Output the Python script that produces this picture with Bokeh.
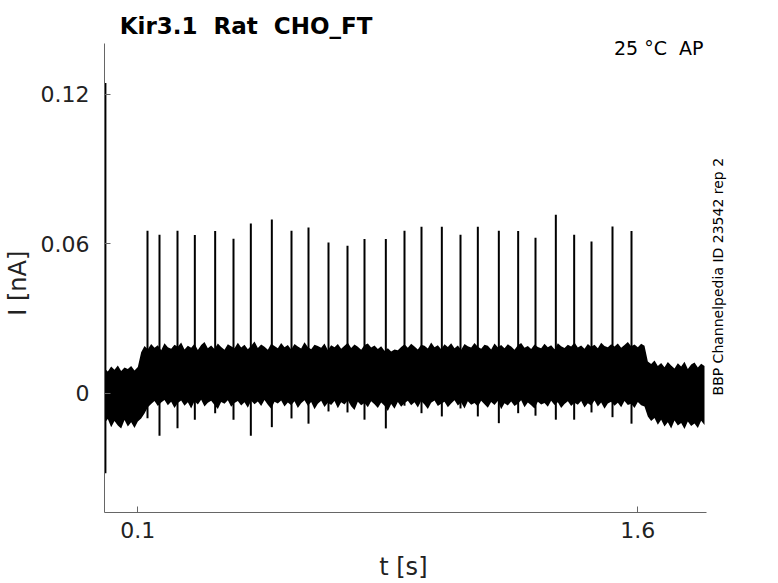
import math
from bokeh.plotting import figure
from bokeh.models import Range1d, FixedTicker, Label
from bokeh.embed import file_html
from bokeh.resources import INLINE

# ---- data ----
# (a no-break space after the first space keeps the double spacing visible in SVG)
title_text = "Kir3.1 \u00a0Rat \u00a0CHO_FT"
cond_text = "25 °C \u00a0AP"
side_text = "BBP Channelpedia ID 23542 rep 2"
x_label = "t [s]"
y_label = "I [nA]"

x_ticks = [0.1, 1.6]
x_tick_labels = ["0.1", "1.6"]
y_ticks = [0.0, 0.06, 0.12]
y_tick_labels = ["0", "0.06", "0.12"]

# axis extents of the recording panel
t_min, t_max = 0.0, 1.805
i_min, i_max = -0.0477, 0.1403

# initial capacitive transient at t ~ 0
transient_t = 0.002
transient_lo = -0.032
transient_hi = 0.1244

# noise envelope of the recorded current (nA), sampled every 10 ms from t = 0 to 1.80 s
env_hi = [
    # 0.00 - 0.10 (before the step)
    0.0100, 0.0088, 0.0108, 0.0095, 0.0112, 0.0090, 0.0104, 0.0098, 0.0110, 0.0092, 0.0106,
    # 0.11 - 1.62
    0.0165,
    0.0190, 0.0177, 0.0198, 0.0183, 0.0193, 0.0173, 0.0201, 0.0185, 0.0179, 0.0195,
    0.0187, 0.0204, 0.0176, 0.0191, 0.0183, 0.0199, 0.0174, 0.0194, 0.0206, 0.0181,
    0.0192, 0.0178, 0.0200, 0.0186, 0.0175, 0.0197, 0.0189, 0.0181, 0.0203, 0.0184,
    0.0195, 0.0177, 0.0191, 0.0208, 0.0182, 0.0196, 0.0187, 0.0175, 0.0199, 0.0190,
    0.0181, 0.0202, 0.0185, 0.0194, 0.0176, 0.0198, 0.0188, 0.0180, 0.0205, 0.0186,
    0.0177, 0.0195, 0.0190, 0.0183, 0.0200, 0.0174, 0.0193, 0.0185, 0.0198, 0.0179,
    0.0191, 0.0203, 0.0182, 0.0196, 0.0187, 0.0175, 0.0194, 0.0200, 0.0184, 0.0192,
    0.0178, 0.0189, 0.0171, 0.0181, 0.0168, 0.0176, 0.0173, 0.0186, 0.0197, 0.0183,
    0.0199, 0.0188, 0.0176, 0.0195, 0.0191, 0.0180, 0.0204, 0.0185, 0.0193, 0.0177,
    0.0197, 0.0186, 0.0201, 0.0181, 0.0192, 0.0175, 0.0198, 0.0189, 0.0184, 0.0202,
    0.0187, 0.0179, 0.0195, 0.0191, 0.0176, 0.0200, 0.0185, 0.0194, 0.0181, 0.0197,
    0.0188, 0.0175, 0.0193, 0.0202, 0.0183, 0.0190, 0.0178, 0.0196, 0.0186, 0.0181,
    0.0199, 0.0185, 0.0193, 0.0177, 0.0201, 0.0189, 0.0182, 0.0195, 0.0188, 0.0204,
    0.0184, 0.0192, 0.0179, 0.0198, 0.0187, 0.0195, 0.0181, 0.0203, 0.0190, 0.0185,
    0.0197, 0.0188, 0.0200, 0.0183, 0.0194, 0.0206, 0.0189, 0.0196, 0.0185, 0.0199,
    0.0191,
    # 1.63 - 1.80 (after the step)
    0.0128, 0.0118, 0.0132, 0.0110, 0.0122, 0.0105, 0.0126, 0.0112, 0.0100,
    0.0121, 0.0108, 0.0127, 0.0098, 0.0116, 0.0124, 0.0104, 0.0119, 0.0110,
]
env_lo = [
    -0.0118, -0.0102, -0.0135, -0.0110, -0.0128, -0.0140, -0.0106, -0.0132, -0.0115, -0.0138, -0.0112,
    -0.0100,
    -0.0080, -0.0055, -0.0042, -0.0030, -0.0050, -0.0036, -0.0026, -0.0047, -0.0033, -0.0058,
    -0.0038, -0.0028, -0.0049, -0.0035, -0.0060, -0.0031, -0.0044, -0.0025, -0.0052, -0.0037,
    -0.0029, -0.0046, -0.0062, -0.0034, -0.0041, -0.0027, -0.0053, -0.0038, -0.0030, -0.0048,
    -0.0035, -0.0057, -0.0029, -0.0043, -0.0032, -0.0050, -0.0026, -0.0045, -0.0061, -0.0033,
    -0.0040, -0.0028, -0.0052, -0.0036, -0.0047, -0.0031, -0.0058, -0.0039, -0.0027, -0.0049,
    -0.0034, -0.0063, -0.0041, -0.0029, -0.0054, -0.0037, -0.0046, -0.0030, -0.0059, -0.0035,
    -0.0044, -0.0028, -0.0051, -0.0066, -0.0033, -0.0047, -0.0038, -0.0055, -0.0031, -0.0043,
    -0.0058, -0.0036, -0.0049, -0.0070, -0.0042, -0.0061, -0.0034, -0.0053, -0.0039, -0.0029,
    -0.0047, -0.0035, -0.0056, -0.0030, -0.0044, -0.0062, -0.0037, -0.0028, -0.0050, -0.0041,
    -0.0033, -0.0055, -0.0040, -0.0027, -0.0048, -0.0036, -0.0060, -0.0031, -0.0045, -0.0038,
    -0.0052, -0.0029, -0.0043, -0.0057, -0.0034, -0.0046, -0.0030, -0.0063, -0.0039, -0.0048,
    -0.0032, -0.0050, -0.0041, -0.0027, -0.0055, -0.0036, -0.0047, -0.0060, -0.0033, -0.0044,
    -0.0038, -0.0053, -0.0029, -0.0046, -0.0035, -0.0058, -0.0042, -0.0031, -0.0050, -0.0037,
    -0.0045, -0.0030, -0.0056, -0.0039, -0.0048, -0.0028, -0.0052, -0.0036, -0.0061, -0.0040,
    -0.0033, -0.0049, -0.0037, -0.0055, -0.0030, -0.0046, -0.0041, -0.0058, -0.0034, -0.0047,
    -0.0052,
    -0.0092, -0.0110, -0.0098, -0.0125, -0.0105, -0.0132, -0.0115, -0.0140, -0.0108,
    -0.0128, -0.0118, -0.0142, -0.0112, -0.0130, -0.0120, -0.0138, -0.0109, -0.0126,
]
env_dt = 0.01
env_t = [round(i * env_dt, 2) for i in range(len(env_hi))]

# evoked spikes: time (s), peak and trough (nA)
spike_t = [0.129, 0.165, 0.219, 0.271, 0.332, 0.387, 0.439, 0.502, 0.561,
           0.612, 0.672, 0.729, 0.780, 0.844, 0.900, 0.951, 1.012, 1.068,
           1.120, 1.183, 1.241, 1.293, 1.354, 1.409, 1.461, 1.524, 1.581]
spike_peak = [0.0652, 0.0636, 0.0652, 0.0635, 0.0651, 0.0620, 0.0681, 0.0697, 0.0652,
              0.0665, 0.0605, 0.0592, 0.0619, 0.0619, 0.0652, 0.0668, 0.0668, 0.0636,
              0.0668, 0.0652, 0.0651, 0.0624, 0.0716, 0.0636, 0.0609, 0.0669, 0.0651]
spike_trough = [-0.0099, -0.0169, -0.0139, -0.0105, -0.0079, -0.0105, -0.0169, -0.0135, -0.0100,
                -0.0121, -0.0072, -0.0076, -0.0105, -0.0140, -0.0049, -0.0079, -0.0092, -0.0060,
                -0.0092, -0.0119, -0.0079, -0.0089, -0.0105, -0.0105, -0.0076, -0.0095, -0.0121]

FONT = "DejaVu Sans"
NBSP = "\u00a0"

# frame extends over the whole top/right area so that the annotation texts are not clipped;
# axis lines are limited to the recording extents with `bounds`
p = figure(width=778, height=583, output_backend="svg", toolbar_location=None,
           x_range=Range1d(0.0, 2.022), y_range=Range1d(-0.0477, 0.1575),
           min_border_left=104, min_border_right=0, min_border_top=0, min_border_bottom=71)
p.outline_line_color = None
p.xgrid.visible = False
p.ygrid.visible = False
p.background_fill_color = "white"
p.border_fill_color = "white"

# trace
p.varea(x=env_t, y1=env_lo, y2=env_hi, fill_color="black")
p.segment(x0=spike_t, y0=spike_trough, x1=spike_t, y1=spike_peak,
          line_color="black", line_width=2)
p.segment(x0=[transient_t], y0=[transient_lo], x1=[transient_t], y1=[transient_hi],
          line_color="black", line_width=2.5)

for ax in (p.xaxis[0], p.yaxis[0]):
    ax.axis_line_color = "#666666"
    ax.major_tick_line_color = "#666666"
    ax.major_tick_in = 6
    ax.major_tick_out = 0
    ax.minor_tick_line_color = None
    ax.major_label_text_font = FONT
    ax.major_label_text_font_size = "22px"
    ax.major_label_text_color = "#222222"
    ax.axis_label_text_font = FONT
    ax.axis_label_text_font_size = "24px"
    ax.axis_label_text_font_style = "normal"
    ax.axis_label_text_color = "#222222"

# axis titles are centred on the frame; trailing no-break spaces shift them
# to the centre of the bounded axis lines
p.xaxis.bounds = (t_min, t_max)
p.xaxis.ticker = FixedTicker(ticks=x_ticks)
p.xaxis.major_label_overrides = dict(zip(x_ticks, x_tick_labels))
p.xaxis.major_label_standoff = 9
p.xaxis.axis_label = x_label + NBSP * 10
p.xaxis.axis_label_standoff = 12

p.yaxis.bounds = (i_min, i_max)
p.yaxis.ticker = FixedTicker(ticks=y_ticks)
p.yaxis.major_label_overrides = dict(zip(y_ticks, y_tick_labels))
p.yaxis.major_label_standoff = 15
p.yaxis.axis_label = y_label + NBSP * 7
p.yaxis.axis_label_standoff = 6

p.add_layout(Label(x=0.0459, y=0.1471, text=title_text, text_font=FONT,
                   text_font_size="23px", text_font_style="bold", text_color="black",
                   text_align="left", text_baseline="alphabetic"))
p.add_layout(Label(x=1.797, y=0.1383, text=cond_text, text_font=FONT,
                   text_font_size="19px", text_color="black",
                   text_align="right", text_baseline="alphabetic"))
p.add_layout(Label(x=1.839, y=-0.0008, text=side_text, text_font=FONT,
                   text_font_size="14px", text_color="black", angle=math.pi / 2,
                   text_align="left", text_baseline="middle"))

open("out.html", "w").write(file_html(p, INLINE))
